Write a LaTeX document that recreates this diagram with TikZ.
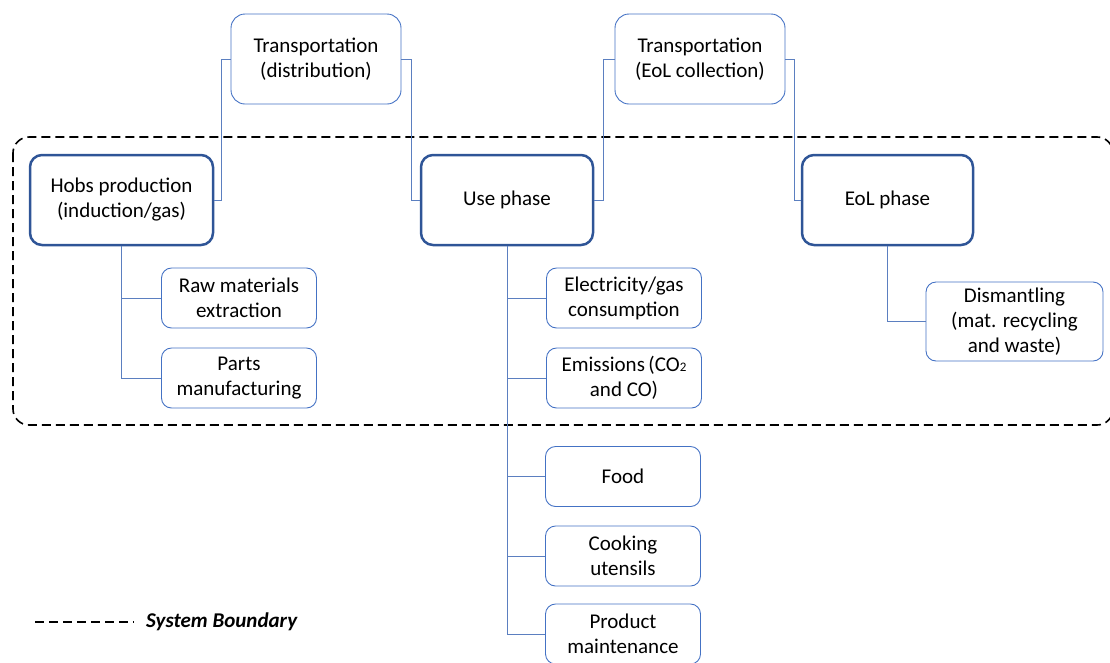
\documentclass[tikz,border=0pt]{standalone}
\usepackage{fontspec}
\setmainfont{Carlito}
\usetikzlibrary{positioning}
\definecolor{mainblue}{HTML}{2F5597}
\definecolor{thinblue}{HTML}{4472C4}
\definecolor{lineblue}{HTML}{5B7FC0}
\tikzset{
  boxfont/.style={font=\fontsize{21}{25}\selectfont},
  phasebox/.style={draw=mainblue, line width=2.5pt, rounded corners=12pt, minimum width=183pt, minimum height=90pt, align=center, boxfont, inner sep=1pt},
  transbox/.style={draw=thinblue, line width=0.9pt, rounded corners=14pt, minimum width=170pt, minimum height=90pt, align=center, boxfont, inner sep=1pt},
  subbox/.style={draw=thinblue, line width=0.9pt, rounded corners=10pt, minimum width=155pt, minimum height=60pt, align=center, boxfont, inner sep=0pt},
  conn/.style={draw=lineblue, line width=0.8pt},
  boundary/.style={draw=black, line width=1.6pt, dash pattern=on 9pt off 5pt}
}
\begin{document}
\begin{tikzpicture}[x=1pt,y=-1pt]
\useasboundingbox (0,0) rectangle (1110,662);
% system boundary
\draw[boundary, rounded corners=16pt] (13,137) rectangle (1113,425);
% nodes
\node[transbox] (td) at (316,59) {Transportation\\(distribution)};
\node[transbox] (te) at (700,59) {Transportation\\(EoL collection)};
\node[phasebox] (hobs) at (121.5,200) {Hobs production\\(induction/gas)};
\node[phasebox, minimum width=172pt] (use) at (507,200) {Use phase};
\node[phasebox, minimum width=171pt] (eol) at (887.5,200) {EoL phase};
\node[subbox] (raw) at (239,298) {Raw materials\\extraction};
\node[subbox] (parts) at (239,378) {Parts\\manufacturing};
\node[subbox] (elec) at (624,298) {Electricity/gas\\consumption};
\node[subbox] (emis) at (624,378) {Emissions\,(CO{\fontsize{13}{13}\selectfont 2}\\and CO)};
\node[subbox] (food) at (623,476.5) {Food};
\node[subbox] (cook) at (623,556) {Cooking\\utensils};
\node[subbox] (maint) at (623,634) {Product\\maintenance};
\node[subbox, minimum width=177pt, minimum height=79pt] (dism) at (1014.5,321.5) {Dismantling\\(mat. recycling\\and waste)};
% connectors
\draw[conn] (td.west) -| (221,200) -- (hobs.east);
\draw[conn] (td.east) -| (411,200) -- (use.west);
\draw[conn] (te.west) -| (603,200) -- (use.east);
\draw[conn] (te.east) -| (794,200) -- (eol.west);
\draw[conn] (hobs.south) |- (parts.west);
\draw[conn] (121.5,298) -- (raw.west);
\draw[conn] (use.south) |- (maint.west);
\draw[conn] (507,298) -- (elec.west);
\draw[conn] (507,378) -- (emis.west);
\draw[conn] (507,476.5) -- (food.west);
\draw[conn] (507,556) -- (cook.west);
\draw[conn] (eol.south) |- (dism.west);
% legend
\coordinate (la) at (35,622);
\coordinate (lb) at (134,622);
\draw[boundary, line width=1.2pt, dash pattern=on 9pt off 5pt] (la) -- (lb);
\node[anchor=west, font=\fontsize{21}{25}\selectfont\bfseries\itshape, inner sep=0pt] (leg) at (146,622) {System Boundary};
\end{tikzpicture}
\end{document}
